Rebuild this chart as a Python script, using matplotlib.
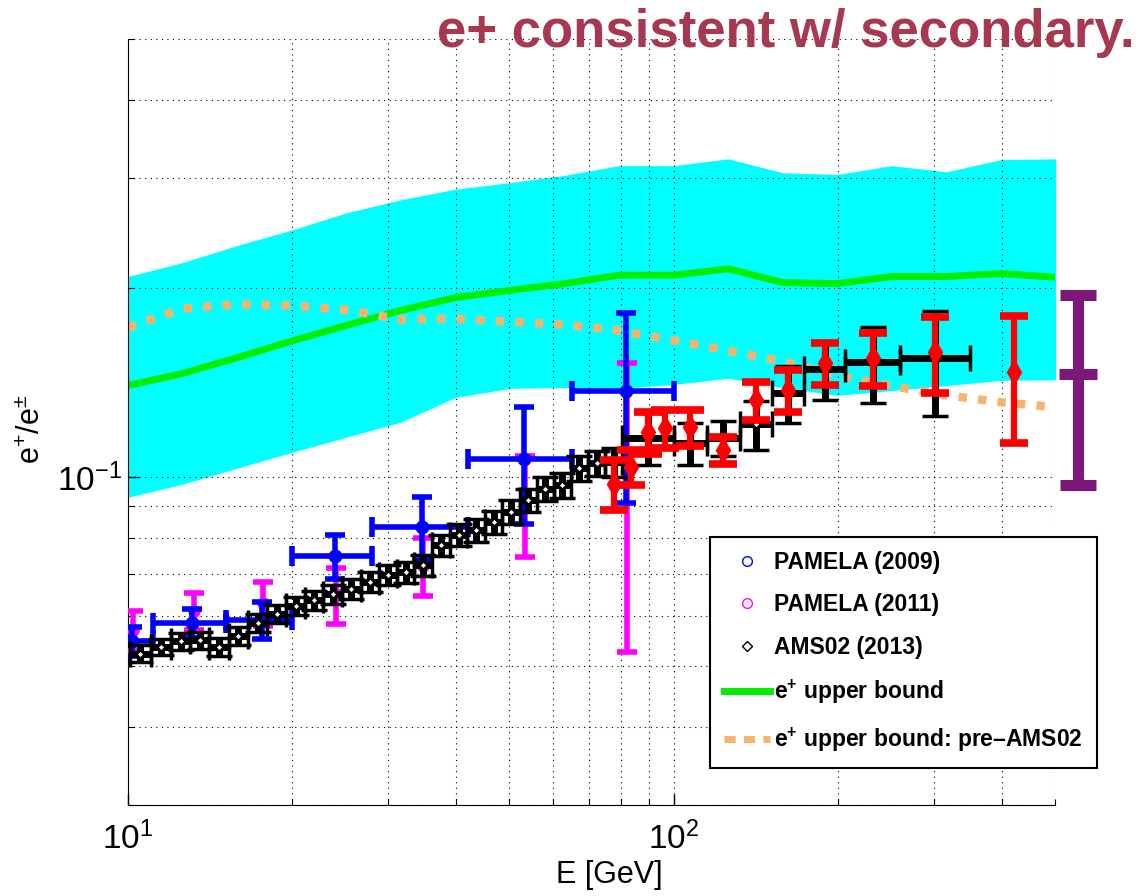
import numpy as np
import matplotlib
matplotlib.use("Agg")
import matplotlib.pyplot as plt
from matplotlib.lines import Line2D
from matplotlib.ticker import FixedLocator, NullFormatter

plt.rcParams['font.family'] = ['Liberation Sans', 'DejaVu Sans']
plt.rcParams['mathtext.fontset'] = 'custom'
plt.rcParams['mathtext.rm'] = 'Liberation Sans'
plt.rcParams['mathtext.bf'] = 'Liberation Sans:bold'
plt.rcParams['mathtext.it'] = 'Liberation Sans:italic'

# model grid (GeV) for the band and the bounds
grid_e = [10.0, 12.6, 15.8, 20.0, 25.1, 31.6, 39.8, 50.1, 63.1, 79.4,
          100.0, 125.9, 158.5, 199.5, 251.2, 316.2, 398.1, 501.2]
band_hi = [0.209, 0.220, 0.234, 0.248, 0.264, 0.277, 0.288, 0.295, 0.303, 0.314,
           0.314, 0.322, 0.306, 0.304, 0.314, 0.307, 0.321, 0.322]
band_lo = [0.0929, 0.0975, 0.1033, 0.1096, 0.1158, 0.1224, 0.134, 0.1386, 0.139, 0.1386,
           0.1406, 0.1438, 0.139, 0.1351, 0.1375, 0.140, 0.1427, 0.143]
upper = [0.140, 0.1464, 0.155, 0.165, 0.1746, 0.1845, 0.1934, 0.1986, 0.2036, 0.210,
         0.210, 0.215, 0.2044, 0.2036, 0.209, 0.209, 0.2113, 0.2084]
upper_pre = [0.1734, 0.1858, 0.1887, 0.1878, 0.185, 0.1785, 0.179, 0.177, 0.1752, 0.1714,
             0.1652, 0.1592, 0.1530, 0.145, 0.1397, 0.1351, 0.1317, 0.1293]

# PAMELA (2009)
pam09_e = [10.15, 13.1, 17.6, 24.0, 34.6, 53.2, 81.9]
pam09_lo = [8.9, 11.1, 15.1, 20.0, 28.0, 42.0, 65.0]
pam09_hi = [11.1, 15.1, 20.0, 28.0, 42.0, 65.0, 100.0]
pam09_val = [0.0548, 0.0585, 0.0592, 0.0748, 0.0833, 0.1068, 0.137]
pam09_err = [0.0029, 0.0032, 0.0040, 0.0061, 0.0096, 0.0225, 0.046]

# PAMELA (2011)
pam11_e = [10.2, 13.2, 17.7, 24.1, 34.7, 53.3, 82.0]
pam11_val = [0.057, 0.0612, 0.063, 0.065, 0.0723, 0.0913, 0.1024]
pam11_err = [0.0042, 0.0042, 0.005, 0.0066, 0.0077, 0.0167, 0.0497]

# AMS02 (2013)
ams_lo = [10.1, 11.0, 12.0, 13.0, 14.1, 15.3, 16.6, 18.0, 19.5, 21.1,
          22.8, 24.7, 26.7, 28.8, 31.1, 33.5, 36.1, 38.9, 41.9, 45.1,
          48.5, 52.2, 56.1, 60.3, 64.8, 69.7, 74.9, 80.5, 100.0, 115.1,
          132.1, 151.5, 173.5, 206.5, 260.0]
ams_hi = [11.0, 12.0, 13.0, 14.1, 15.3, 16.6, 18.0, 19.5, 21.1, 22.8,
          24.7, 26.7, 28.8, 31.1, 33.5, 36.1, 38.9, 41.9, 45.1, 48.5,
          52.2, 56.1, 60.3, 64.8, 69.7, 74.9, 80.5, 100.0, 115.1, 132.1,
          151.5, 173.5, 206.5, 260.0, 350.0]
ams_val = [0.0523, 0.0536, 0.0548, 0.0550, 0.0536, 0.0558, 0.0585, 0.0605, 0.0623, 0.0637,
           0.0651, 0.0663, 0.0681, 0.0698, 0.0706, 0.0724, 0.0779, 0.0809, 0.0823, 0.0848,
           0.0880, 0.0919, 0.0957, 0.0971, 0.1033, 0.1053, 0.1057, 0.1154, 0.1133, 0.1154,
           0.1214, 0.1361, 0.1486, 0.1524, 0.1547]
ams_err = [0.0016, 0.0016, 0.0017, 0.0017, 0.0017, 0.0018, 0.0019, 0.0020, 0.0021, 0.0022,
           0.0023, 0.0024, 0.0025, 0.0026, 0.0027, 0.0028, 0.0030, 0.0032, 0.0034, 0.0036,
           0.0038, 0.0040, 0.0042, 0.0045, 0.0048, 0.0050, 0.0055, 0.0110, 0.0086, 0.0074,
           0.0107, 0.0141, 0.0160, 0.0209, 0.0297]

# red points
red_e = [77.6, 83.6, 89.8, 96.5, 107.3, 123.3, 141.5, 162.1, 189.3, 231.7, 301.7, 420.0]
red_val = [0.0975, 0.1037, 0.1179, 0.1197, 0.1201, 0.1104, 0.1326, 0.1375, 0.1520, 0.1547, 0.1581, 0.1469]
red_err = [0.0089, 0.0067, 0.0090, 0.0082, 0.0078, 0.0054, 0.0091, 0.0105, 0.0115, 0.0149, 0.0217, 0.0336]

# purple bar outside the axes
purple_e = [550.0]
purple_val = [0.146]
purple_err = [0.049]

fig = plt.figure(figsize=(11.42, 8.96), dpi=100)
ax = fig.add_axes([128 / 1142, 1 - 805 / 896, 927 / 1142, 766 / 896])
ax.set_xscale('log')
ax.set_yscale('log')

ax.fill_between(grid_e, band_lo, band_hi, color='#00FFFF', lw=0, zorder=1)
ax.plot(grid_e, upper, color='#00EE00', lw=5, zorder=2, solid_joinstyle='miter')
ax.plot(grid_e, upper_pre, color='#F9B26B', lw=6, linestyle=(0, (1.0, 1.35)),
        dash_capstyle='butt', zorder=2)

# PAMELA 2011
ax.errorbar(pam11_e, pam11_val, yerr=pam11_err, fmt='o', color='#FF00FF', ms=8,
            lw=4, capsize=7.5, capthick=4, zorder=3)
# PAMELA 2009
e09 = np.array(pam09_e)
ax.errorbar(pam09_e, pam09_val, yerr=pam09_err,
            xerr=[e09 - np.array(pam09_lo), np.array(pam09_hi) - e09],
            fmt='o', color='#0000FF', ms=9, lw=4, capsize=7.5, capthick=4, zorder=4)
# AMS02 2013
ams_e = np.sqrt(np.array(ams_lo) * np.array(ams_hi))
ax.errorbar(ams_e, ams_val, yerr=ams_err,
            xerr=[ams_e - np.array(ams_lo), np.array(ams_hi) - ams_e],
            fmt='D', color='black', mfc='white', mec='black', mew=2.5, ms=5.5,
            lw=5, capsize=9.5, capthick=4.5, zorder=5)
# red
ax.errorbar(red_e, red_val, yerr=red_err, fmt='d', color='#FF0000', ms=12,
            lw=4.5, capsize=10, capthick=5.5, zorder=6)
# purple
pc = ax.errorbar(purple_e, purple_val, yerr=purple_err, fmt='_', color='#7B1878',
                 ms=27, mew=8, lw=8, capsize=13, capthick=8, zorder=7)
pc.lines[0].set_clip_on(False)
for a in pc.lines[1]:
    a.set_clip_on(False)
for a in pc.lines[2]:
    a.set_clip_on(False)

ax.set_xlim(10, 500)
ax.set_ylim(0.03, 0.5)

ax.set_xticks([10, 100])
ax.set_xticklabels([r'$10^{1}$', r'$10^{2}$'])
ax.xaxis.set_minor_locator(FixedLocator([20, 30, 40, 50, 60, 70, 80, 90, 200, 300, 400, 500]))
ax.xaxis.set_minor_formatter(NullFormatter())
ax.set_yticks([0.1])
ax.set_yticklabels([r'$10^{-1}$'])
ax.yaxis.set_minor_locator(FixedLocator([0.03, 0.04, 0.05, 0.06, 0.07, 0.08, 0.09,
                                         0.2, 0.3, 0.4, 0.5]))
ax.yaxis.set_minor_formatter(NullFormatter())
ax.tick_params(which='both', direction='in', labelsize=24, colors='black')
ax.tick_params(which='major', length=8, width=1)
ax.tick_params(which='minor', length=4, width=0.8)
ax.tick_params(axis='x', pad=12)
ax.tick_params(axis='y', pad=4)

ax.set_axisbelow('line')
ax.grid(True, which='both', color='black', linestyle=(0, (1, 4)), linewidth=0.8)
ax.spines['top'].set_visible(False)
ax.spines['right'].set_visible(False)

ax.set_xlabel('E [GeV]', fontsize=22)
ax.xaxis.set_label_coords(0.519, -0.072)
ax.set_ylabel(r'e$^{+}$/e$^{\pm}$', fontsize=22)
ax.yaxis.set_label_coords(-0.087, 0.49)

handles = [
    Line2D([], [], marker='o', ls='none', mfc='none', mec='#0000FF', ms=7),
    Line2D([], [], marker='o', ls='none', mfc='none', mec='#FF00FF', ms=7),
    Line2D([], [], marker='D', ls='none', mfc='none', mec='black', ms=5),
    Line2D([], [], color='#00EE00', lw=5),
    Line2D([], [], color='#F9B26B', lw=5, linestyle=(0, (1.6, 1.2)), dash_capstyle='butt'),
]
labels = ['PAMELA (2009)', 'PAMELA (2011)', 'AMS02 (2013)',
          r'$\mathbf{e^{+}}$ upper bound', '$\\mathbf{e^{+}}$ upper bound: pre\u2013AMS02']
leg = fig.legend(handles, labels, loc='upper left', bbox_to_anchor=(710 / 1142, 1 - 537 / 896),
                 prop={'weight': 'bold', 'size': 16.5}, frameon=True, fancybox=False,
                 edgecolor='black', framealpha=1, handlelength=2.0, handletextpad=0.2,
                 labelspacing=0.85, borderpad=0.6, borderaxespad=0)
leg.get_frame().set_linewidth(1.5)

fig.text(1135 / 1142, 1 - 47 / 896, 'e+ consistent w/ secondary.', ha='right', va='baseline',
         fontsize=38, fontweight='bold', color='#A8384F')

fig.savefig('out.png', dpi=100)
